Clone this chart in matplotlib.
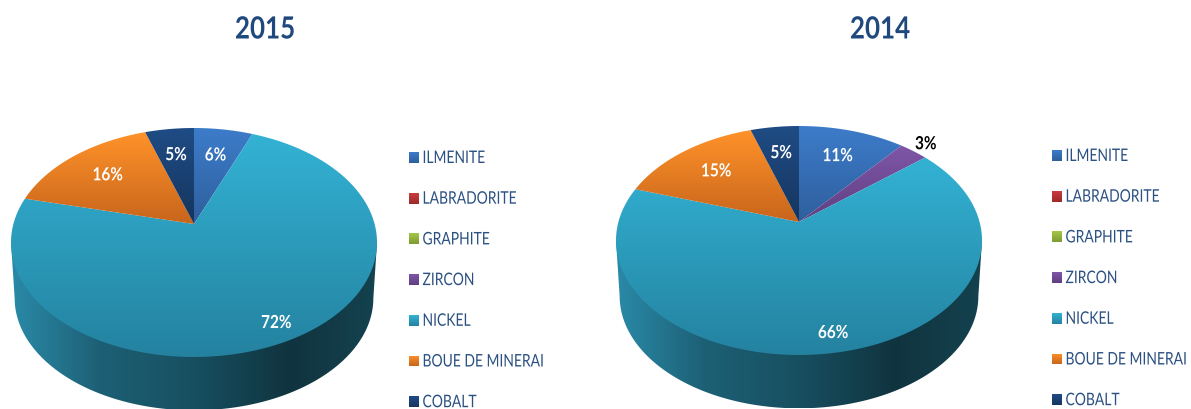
"""
Two pseudo 3D pies, 2015 and 2014
"""

import numpy as np
import matplotlib
matplotlib.use('Agg')
import matplotlib.pyplot as plt
from matplotlib.colors import LinearSegmentedColormap
from matplotlib.patches import Polygon
from matplotlib.patheffects import AbstractPathEffect
from matplotlib.text import Text
from matplotlib.transforms import Affine2D, Bbox

plt.rcParams['font.family'] = ['Lato', 'DejaVu Sans']

# Data:
categories = ['ILMENITE', 'LABRADORITE', 'GRAPHITE', 'ZIRCON', 'NICKEL', 'BOUE DE MINERAI', 'COBALT']
values_2015 = [6, 0, 0, 0, 72, 16, 5]
values_2014 = [11, 0, 0, 3, 66, 15, 5]

# Top and bottom colour of the gradient of each slice:
colors_top = ['#3d7cca', '#cc3b3d', '#a3c84a', '#7f56a8', '#33b2d4', '#ff9229', '#1f4c85']
colors_bottom = ['#2e5f9c', '#9a2a2a', '#7c9a32', '#5f3f80', '#2482a0', '#c8651c', '#16355e']

title_color = '#1f497d'
legend_color = '#2b5082'
wall_colors = [(0, '#2a8aa8'), (0.24, '#1d6075'), (0.5, '#174f60'), (0.76, '#10343f'), (1, '#14424f')]

# Perspective of the pie:
P = 0.1616
RX = 180.6
RY = 111.5
DEPTH = 56
WALL_SCALE = 0.98


class NarrowText(Text):
    """A text squeezed horizontally, as no narrow font is installed"""

    def __init__(self, x, y, s, sx, **kw):
        super().__init__(x, y, s, **kw)
        self.sx = sx

    def anchor_x(self, box):
        if self.get_ha() == 'left':
            return box.x0
        return (box.x0 + box.x1) / 2

    def get_window_extent(self, renderer=None, dpi=None):
        box = super().get_window_extent(renderer, dpi)
        x0 = self.anchor_x(box)
        return Bbox([[x0 + (box.x0 - x0) * self.sx, box.y0], [x0 + (box.x1 - x0) * self.sx, box.y1]])

    def natural_extent(self, renderer):
        return super().get_window_extent(renderer)


class Condense(AbstractPathEffect):
    """Applies the squeeze of a NarrowText when it is drawn"""

    def __init__(self, text):
        super().__init__()
        self.text = text

    def draw_path(self, renderer, gc, tpath, affine, rgbFace=None):
        x0 = self.text.anchor_x(self.text.natural_extent(renderer))
        squeeze = Affine2D().translate(-x0, 0).scale(self.text.sx, 1).translate(x0, 0)
        renderer.draw_path(gc, tpath, affine + squeeze, rgbFace)


def narrow_text(ax, x, y, s, sx, **kw):
    """Adds a text that is drawn condensed"""
    t = NarrowText(x, y, s, sx, va='center', **kw)
    ax.add_artist(t)
    t.set_path_effects([Condense(t)])
    return t


def project(theta, r=1.0):
    """Maps a clockwise angle from 12 o'clock on the disc to offsets from the apex"""
    u = r * np.sin(theta)
    v = r * np.cos(theta)
    w = 1 + P * v
    return RX * u / w, -RY * v / w


def gradient_fill(ax, xy, colors, horizontal=False):
    """Fills a polygon with a gradient going over its bounding box"""
    cmap = LinearSegmentedColormap.from_list('g', colors)
    grad = np.linspace(0, 1, 256)
    grad = grad[None, :] if horizontal else grad[:, None]
    x0, x1 = xy[:, 0].min(), xy[:, 0].max()
    y0, y1 = xy[:, 1].min(), xy[:, 1].max()
    im = ax.imshow(grad, cmap=cmap, extent=(x0, x1, y1, y0), aspect='auto', zorder=2)
    patch = Polygon(xy, closed=True, facecolor='none', edgecolor='none', transform=ax.transData)
    ax.add_patch(patch)
    im.set_clip_path(patch)


def draw_pie(ax, cx, cy, values):
    """Draws the wall, the slices and the percent labels of one pie"""
    # Wall under the front of the disc:
    t_side = np.arccos(-P)
    t = np.linspace(t_side, 2 * np.pi - t_side, 200)
    bx, by = project(t)
    top_r = project(np.array([t_side]))
    top_l = project(np.array([2 * np.pi - t_side]))
    wall = np.vstack([[cx + top_r[0][0], cy + top_r[1][0]],
                      np.column_stack([cx + WALL_SCALE * bx, cy + WALL_SCALE * by + DEPTH]),
                      [cx + top_l[0][0], cy + top_l[1][0]]])
    gradient_fill(ax, wall, wall_colors, horizontal=True)

    # Slices, clockwise from 12 o'clock:
    total = sum(values)
    start = 0.0
    for i, value in enumerate(values):
        if value == 0:
            continue
        a0 = start / total * 2 * np.pi
        a1 = (start + value) / total * 2 * np.pi
        t = np.linspace(a0, a1, 200)
        x, y = project(t)
        xy = np.vstack([[cx, cy], np.column_stack([cx + x, cy + y])])
        gradient_fill(ax, xy, [colors_top[i], colors_bottom[i]])

        # Label of the slice:
        mid = np.array([(a0 + a1) / 2])
        if value >= 50:
            r, color = 0.87, 'white'
        elif value < 4:
            r, color = 1.12, 'black'
        else:
            r, color = 0.7, 'white'
        lx, ly = project(mid, r)
        narrow_text(ax, cx + lx[0], cy + ly[0], '{}%'.format(value), 0.85, color=color, fontsize=13,
                    fontweight='bold', ha='center', zorder=5)
        start += value


def draw_legend(ax, x, y, step):
    """Draws the legend column with gradient squares"""
    for i, name in enumerate(categories):
        yc = y + i * step
        xy = np.array([[x, yc - 5.5], [x + 10, yc - 5.5], [x + 10, yc + 5.5], [x, yc + 5.5]])
        gradient_fill(ax, xy, [colors_top[i], colors_bottom[i]])
        narrow_text(ax, x + 13.5, yc + 0.5, name, 0.8, color=legend_color, fontsize=12.5, ha='left', zorder=5)


# Create the figure, one axes in pixel units:
fig = plt.figure(figsize=(11.91, 4.09), dpi=100)
ax = fig.add_axes([0, 0, 1, 1])

draw_pie(ax, 194, 224, values_2015)
draw_pie(ax, 799, 222, values_2014)
draw_legend(ax, 409, 157.5, 40.7)
draw_legend(ax, 1052, 155.5, 40.7)

narrow_text(ax, 265, 29.5, '2015', 0.85, color=title_color, fontsize=22, fontweight='bold', ha='center')
narrow_text(ax, 880, 29.5, '2014', 0.85, color=title_color, fontsize=22, fontweight='bold', ha='center')

ax.set_xlim(0, 1191)
ax.set_ylim(409, 0)
ax.axis('off')

fig.savefig('out.png', dpi=100)
